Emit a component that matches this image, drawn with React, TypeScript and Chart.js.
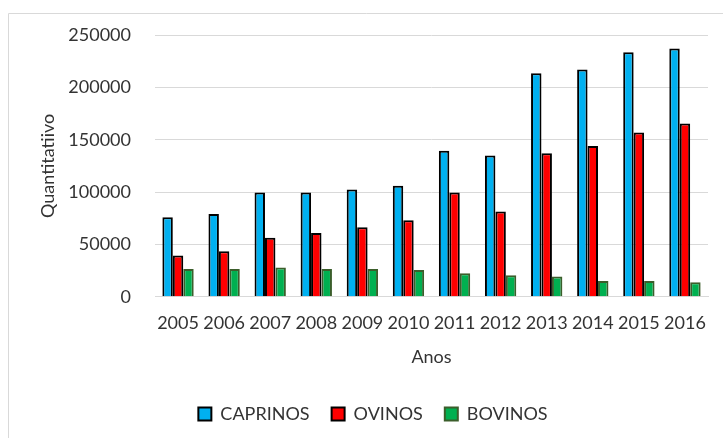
import React, { useEffect, useRef } from "react";
import { Chart, registerables } from "chart.js";

Chart.register(...registerables);

const years = ["2005", "2006", "2007", "2008", "2009", "2010", "2011", "2012", "2013", "2014", "2015", "2016"];
const caprinos = [76000, 79000, 99500, 99500, 102500, 106000, 139500, 135000, 213500, 217000, 233500, 237000];
const ovinos = [39500, 43500, 56500, 61000, 66500, 73000, 99500, 81500, 137000, 144000, 157000, 165500];
const bovinos = [26500, 26500, 28000, 26500, 26500, 25500, 22500, 20500, 19500, 15000, 15000, 14000];

const FONT = "Lato, 'Open Sans', sans-serif";
const TEXT = "#333333";
const GRID = "#d9d9d9";

// Thin grey frame along the top and left edges of the chart surface
const framePlugin = {
  id: "frame",
  beforeDraw(chart: Chart) {
    const { ctx, width, height } = chart;
    ctx.save();
    ctx.strokeStyle = GRID;
    ctx.lineWidth = 1;
    ctx.beginPath();
    ctx.moveTo(width + 2, 13.5);
    ctx.lineTo(8.5, 13.5);
    ctx.lineTo(8.5, height + 2);
    ctx.stroke();
    ctx.restore();
  },
};

export default function App() {
  const ref = useRef<HTMLCanvasElement | null>(null);

  useEffect(() => {
    if (!ref.current) return;
    const chart = new Chart(ref.current, {
      type: "bar",
      data: {
        labels: years,
        datasets: [
          { label: "CAPRINOS", data: caprinos, backgroundColor: "#00b0f0", borderColor: "#000000", borderWidth: 2 },
          { label: "OVINOS", data: ovinos, backgroundColor: "#ff0000", borderColor: "#000000", borderWidth: 2 },
          { label: "BOVINOS", data: bovinos, backgroundColor: "#00b050", borderColor: "#3b5e2b", borderWidth: 2 },
        ],
      },
      options: {
        animation: false,
        responsive: false,
        maintainAspectRatio: false,
        layout: { padding: { top: 35, right: 15, bottom: 5, left: 38 } },
        datasets: { bar: { categoryPercentage: 0.68, barPercentage: 1.0 } },
        plugins: {
          legend: {
            position: "bottom",
            labels: {
              font: { family: FONT, size: 18 },
              color: TEXT,
              boxWidth: 13,
              boxHeight: 13,
              padding: 22,
            },
          },
          tooltip: { enabled: false },
        },
        scales: {
          x: {
            grid: { display: false, drawTicks: false },
            border: { display: true, color: GRID, width: 1 },
            ticks: { font: { family: FONT, size: 18 }, color: TEXT, padding: 16, maxRotation: 0, autoSkip: false },
            title: { display: true, text: "Anos", font: { family: FONT, size: 18 }, color: TEXT, padding: { top: -4, bottom: 15 } },
          },
          y: {
            min: 0,
            max: 250000,
            grid: { color: GRID, drawTicks: false },
            border: { display: false },
            ticks: {
              stepSize: 50000,
              font: { family: FONT, size: 18 },
              color: TEXT,
              padding: 24,
              callback: (value: any) => String(value),
            },
            title: { display: true, text: "Quantitatiivo", font: { family: FONT, size: 18 }, color: TEXT, padding: { top: -1, bottom: 0 } },
            afterFit(scale: any) {
              scale.width = 117;
            },
          },
        },
      },
      plugins: [framePlugin],
    });
    return () => chart.destroy();
  }, []);

  return (
    <div style={{ position: "absolute", left: 0, top: 0, width: 723, height: 438, background: "#ffffff" }}>
      <canvas ref={ref} width={723} height={438} />
    </div>
  );
}
